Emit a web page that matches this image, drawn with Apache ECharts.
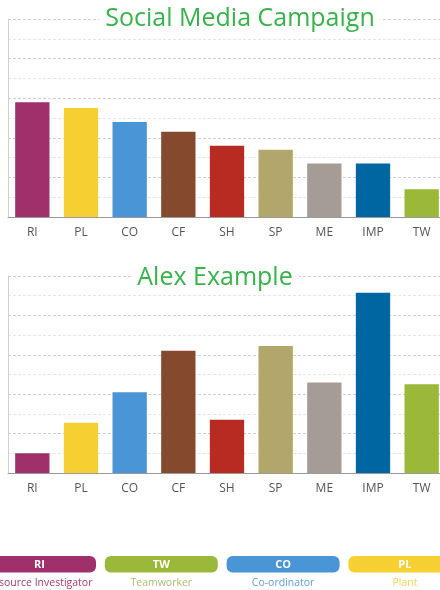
<!DOCTYPE html>
<html>
<head>
<meta charset="utf-8">
<script src="https://cdn.jsdelivr.net/npm/echarts@6/dist/echarts.min.js"></script>
<style>
html,body{margin:0;padding:0;background:#fff;}
#chart{width:440px;height:590px;}
</style>
</head>
<body>
<div id="chart"></div>
<script>
// ---- data ----
var categories = ['RI', 'PL', 'CO', 'CF', 'SH', 'SP', 'ME', 'IMP', 'TW'];
var campaignValues = [5.8, 5.5, 4.8, 4.3, 3.6, 3.4, 2.7, 2.7, 1.4];
var alexValues = [1.0, 2.55, 4.1, 6.2, 2.7, 6.45, 4.6, 9.15, 4.5];
var chartTitles = ['Social Media Campaign', 'Alex Example'];
var legendCodes = ['RI', 'TW', 'CO', 'PL'];
var legendNames = ['Resource Investigator', 'Teamworker', 'Co-ordinator', 'Plant'];

// ---- styles ----
var roleColors = {
  RI: '#a0306b', PL: '#f6d033', CO: '#4a95d5', CF: '#854a2e', SH: '#b72b23',
  SP: '#b3a66a', ME: '#a59c95', IMP: '#0066a1', TW: '#9bb838'
};
var legendTextColors = { RI: '#a33a70', TW: '#a9bd6f', CO: '#5d9fd8', PL: '#f6d45a' };
var font = '"Open Sans", "Noto Sans", sans-serif';

function coloredData(vals) {
  return vals.map(function (v, i) {
    return { value: v, itemStyle: { color: roleColors[categories[i]] } };
  });
}

function xAxisCfg(gi) {
  return {
    type: 'category', gridIndex: gi, data: categories,
    axisLine: { lineStyle: { color: '#9a9a9a', width: 1 } },
    axisTick: { show: false },
    axisLabel: { color: '#555', fontFamily: font, fontSize: 12, margin: 10 }
  };
}
function yAxisCfg(gi) {
  return {
    type: 'value', gridIndex: gi, min: 0, max: 10, interval: 2,
    axisLine: { show: true, lineStyle: { color: '#d0d0d0' } },
    axisTick: { show: false },
    axisLabel: { show: false },
    splitLine: { show: true, lineStyle: { color: '#cfcfcf', type: [3, 2] } },
    minorTick: { show: false, splitNumber: 2 },
    minorSplitLine: { show: true, lineStyle: { color: '#e6e6e6', type: [3, 2] } }
  };
}

var chart = echarts.init(document.getElementById('chart'), null, { renderer: 'canvas' });

var graphics = [];
legendCodes.forEach(function (code, i) {
  var x = -17 + i * 121.8;
  graphics.push({
    type: 'rect', left: x, top: 556,
    shape: { x: 0, y: 0, width: 113, height: 16.5, r: 6 },
    style: { fill: roleColors[code] }, z: 10
  });
  graphics.push({
    type: 'text', x: x + 56.5, y: 564.5,
    style: { text: code, fill: '#fff', font: 'bold 11px ' + font, textAlign: 'center', textVerticalAlign: 'middle' }, z: 11
  });
  graphics.push({
    type: 'text', x: x + 56.5, y: 583,
    style: { text: legendNames[i], fill: legendTextColors[code], font: '10.5px ' + font, textAlign: 'center', textVerticalAlign: 'middle' }, z: 11
  });
});

chart.setOption({
  animation: false,
  backgroundColor: '#fff',
  title: [
    { text: chartTitles[0], left: 234, top: 4, textAlign: 'center', backgroundColor: '#fff', padding: [0, 6],
      textStyle: { color: '#37b34a', fontFamily: font, fontSize: 25, fontWeight: 'normal', lineHeight: 30 } },
    { text: chartTitles[1], left: 209, top: 263, textAlign: 'center', backgroundColor: '#fff', padding: [0, 6],
      textStyle: { color: '#37b34a', fontFamily: font, fontSize: 25, fontWeight: 'normal', lineHeight: 30 } }
  ],
  grid: [
    { left: 8, top: 19, width: 438, height: 198, outerBoundsMode: 'none', containLabel: false },
    { left: 8, top: 276, width: 438, height: 197, outerBoundsMode: 'none', containLabel: false }
  ],
  xAxis: [xAxisCfg(0), xAxisCfg(1)],
  yAxis: [yAxisCfg(0), yAxisCfg(1)],
  series: [
    { type: 'bar', xAxisIndex: 0, yAxisIndex: 0, data: coloredData(campaignValues), barCategoryGap: '29.5%' },
    { type: 'bar', xAxisIndex: 1, yAxisIndex: 1, data: coloredData(alexValues), barCategoryGap: '29.5%' }
  ],
  graphic: graphics
});
</script>
</body>
</html>
